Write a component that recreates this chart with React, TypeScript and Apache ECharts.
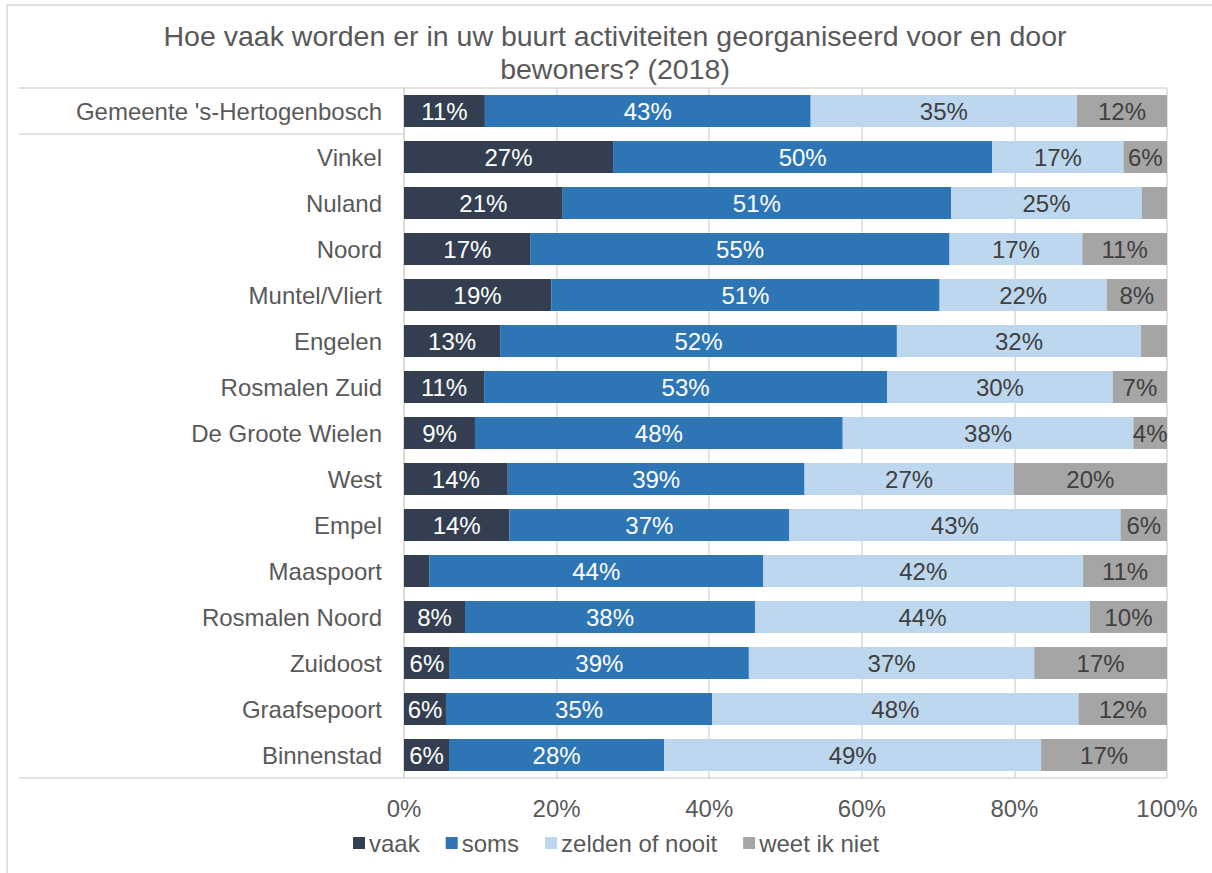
import React, { useEffect, useRef } from "react";
import * as echarts from "echarts";

const categories = [
  "Gemeente 's-Hertogenbosch",
  "Vinkel",
  "Nuland",
  "Noord",
  "Muntel/Vliert",
  "Engelen",
  "Rosmalen Zuid",
  "De Groote Wielen",
  "West",
  "Empel",
  "Maaspoort",
  "Rosmalen Noord",
  "Zuidoost",
  "Graafsepoort",
  "Binnenstad",
];

const vaak = [10.6, 27.4, 20.8, 16.6, 19.3, 12.6, 10.5, 9.3, 13.6, 13.8, 3.3, 8.0, 6.0, 5.5, 5.9];
const soms = [42.7, 49.7, 50.9, 54.9, 50.9, 52.0, 52.8, 48.2, 38.9, 36.7, 43.8, 38.0, 39.2, 34.9, 28.2];
const zelden = [34.9, 17.2, 25.0, 17.4, 21.9, 32.0, 29.6, 38.1, 27.4, 43.4, 41.9, 43.9, 37.4, 48.0, 49.4];
const weet = [11.8, 5.7, 3.3, 11.1, 7.9, 3.4, 7.1, 4.4, 20.1, 6.1, 11.0, 10.1, 17.4, 11.6, 16.5];

const seriesNames = ["vaak", "soms", "zelden of nooit", "weet ik niet"];
const xTicks = [0, 20, 40, 60, 80, 100];

const FONT = "'Liberation Sans', Arial, sans-serif";
const GRID_LEFT = 404;
const GRID_RIGHT_X = 1167;
const GRID_TOP = 88;
const GRID_BOTTOM_Y = 778;

export default function App() {
  const ref = useRef<HTMLDivElement>(null);

  useEffect(() => {
    if (!ref.current) return;
    const chart = echarts.init(ref.current, null, { renderer: "svg" });
    const colors = ["#333F50", "#2E75B6", "#BDD7EE", "#A5A5A5"];
    const labelColors = ["#ffffff", "#ffffff", "#404040", "#404040"];
    const dataSets = [vaak, soms, zelden, weet];
    const band = (GRID_BOTTOM_Y - GRID_TOP) / categories.length;

    chart.setOption({
      animation: false,
      textStyle: { fontFamily: FONT },
      title: {
        text: "Hoe vaak worden er in uw buurt activiteiten georganiseerd voor en door\nbewoners? (2018)",
        left: 610,
        textAlign: "center",
        top: 14,
        textStyle: {
          fontFamily: FONT,
          fontSize: 28.5,
          fontWeight: "normal",
          color: "#595959",
          lineHeight: 33,
        },
      },
      legend: {
        data: seriesNames,
        top: 826,
        left: 348,
        icon: "rect",
        itemWidth: 12,
        itemHeight: 12,
        itemGap: 26,
        textStyle: { fontFamily: FONT, fontSize: 24, color: "#595959", padding: [0, 0, 0, -1] },
      },
      grid: {
        left: GRID_LEFT,
        right: 1212 - GRID_RIGHT_X,
        top: GRID_TOP,
        bottom: 873 - GRID_BOTTOM_Y,
        containLabel: false,
      },
      xAxis: {
        type: "value",
        min: 0,
        max: 100,
        interval: 20,
        axisLine: { show: false },
        axisTick: { show: false },
        splitLine: { show: true, lineStyle: { color: "#d9d9d9", width: 1.5 } },
        axisLabel: {
          formatter: (v: number) => (xTicks.includes(v) ? v + "%" : ""),
          fontFamily: FONT,
          fontSize: 24,
          color: "#595959",
          margin: 18,
        },
      },
      yAxis: {
        type: "category",
        data: categories,
        inverse: true,
        axisLine: { show: true, lineStyle: { color: "#d9d9d9", width: 1.5 } },
        axisTick: { show: false },
        axisLabel: {
          fontFamily: FONT,
          fontSize: 24,
          color: "#595959",
          margin: 22,
        },
      },
      series: seriesNames.map((name, i) => ({
        name,
        type: "bar",
        stack: "total",
        barWidth: 32,
        itemStyle: { color: colors[i] },
        label: {
          show: true,
          position: "inside",
          fontFamily: FONT,
          fontSize: 24,
          color: labelColors[i],
          formatter: (p: any) => (p.value < 3.5 ? "" : Math.round(p.value) + "%"),
        },
        emphasis: { disabled: true },
        data: dataSets[i],
      })),
      graphic: [
        {
          type: "rect",
          shape: { x: 7, y: 5, width: 1400, height: 1000 },
          style: { fill: "none", stroke: "#d9d9d9", lineWidth: 1.5 },
          silent: true,
        },
        {
          type: "line",
          shape: { x1: 19, y1: GRID_TOP, x2: GRID_RIGHT_X, y2: GRID_TOP },
          style: { stroke: "#d9d9d9", lineWidth: 1.5 },
          silent: true,
        },
        {
          type: "line",
          shape: { x1: 19, y1: GRID_TOP + band, x2: GRID_LEFT, y2: GRID_TOP + band },
          style: { stroke: "#d9d9d9", lineWidth: 1.5 },
          silent: true,
        },
        {
          type: "line",
          shape: { x1: 19, y1: GRID_BOTTOM_Y, x2: GRID_RIGHT_X, y2: GRID_BOTTOM_Y },
          style: { stroke: "#d9d9d9", lineWidth: 1.5 },
          silent: true,
        },
      ],
    });

    return () => chart.dispose();
  }, []);

  return (
    <div
      ref={ref}
      style={{ position: "absolute", left: 0, top: 0, width: 1212, height: 873, background: "#fff" }}
    />
  );
}
